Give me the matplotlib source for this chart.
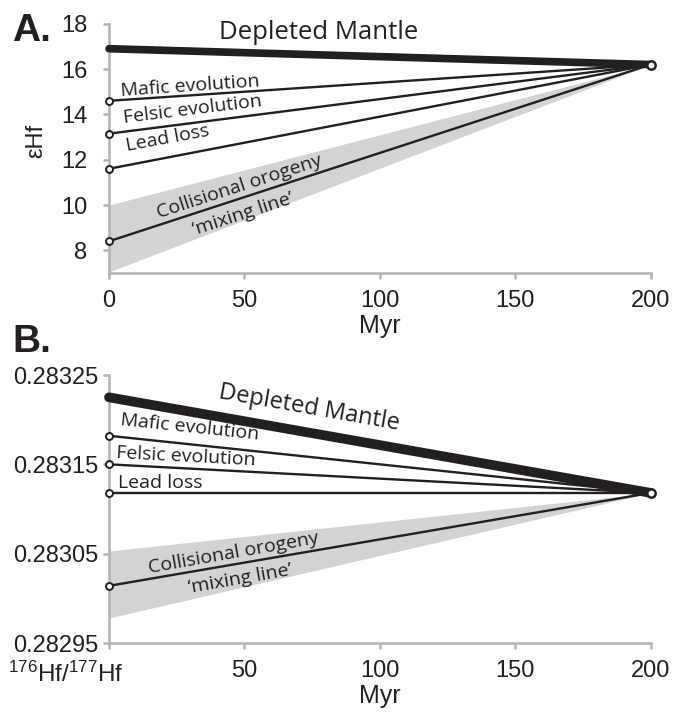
import numpy as np
import matplotlib
matplotlib.use('Agg')
import matplotlib.pyplot as plt

plt.rcParams['mathtext.fontset'] = 'custom'
plt.rcParams['mathtext.rm'] = 'Liberation Sans'
plt.rcParams['mathtext.it'] = 'Liberation Sans:italic'

# time axis (Myr) - all lines go from 0 to 200
t = [0, 200]

# panel A: epsilon Hf
eps_dm = [16.9, 16.2]
eps_mafic = [14.6, 16.2]
eps_felsic = [13.15, 16.2]
eps_lead = [11.6, 16.2]
eps_mix = [8.4, 16.2]
eps_band_top = [10.0, 16.2]
eps_band_bot = [7.05, 16.2]

# panel B: 176Hf/177Hf
hf_dm = [0.283225, 0.283118]
hf_mafic = [0.283182, 0.283118]
hf_felsic = [0.28315, 0.283118]
hf_lead = [0.283118, 0.283118]
hf_mix = [0.283014, 0.283118]
hf_band_top = [0.283053, 0.283118]
hf_band_bot = [0.282978, 0.283118]

xticks = [0, 50, 100, 150, 200]
yticks_a = [8, 10, 12, 14, 16, 18]
yticks_b = [0.28295, 0.28305, 0.28315, 0.28325]

GRAY = '#b3b3b3'
SHADE = '#d1d3d4'
TXT = '#231f20'
ANN = ['Open Sans', 'DejaVu Sans']
TICKF = ['Liberation Sans', 'DejaVu Sans']
BOLDF = ['Liberation Sans Narrow', 'Liberation Sans', 'DejaVu Sans']
ANN_FS = 14


def style_axes(ax, xpad, ypad):
    for s in ['top', 'right']:
        ax.spines[s].set_visible(False)
    for s in ['left', 'bottom']:
        ax.spines[s].set_color(GRAY)
        ax.spines[s].set_linewidth(1.8)
    ax.tick_params(colors=GRAY, width=1.8, length=4.5, direction='out',
                   labelcolor=TXT, labelsize=17)
    ax.tick_params(axis='x', pad=xpad)
    ax.tick_params(axis='y', pad=ypad)
    for lab in ax.get_xticklabels() + ax.get_yticklabels():
        lab.set_family(TICKF)


def draw_panel(ax, dm, mafic, felsic, lead, mix, band_top, band_bot, dm_lw):
    ax.fill_between(t, band_bot, band_top, color=SHADE, lw=0, zorder=1)
    ax.plot(t, dm, color=TXT, lw=dm_lw, solid_capstyle='round', zorder=3,
            clip_on=False)
    for y in [mafic, felsic, lead, mix]:
        ax.plot(t, y, color=TXT, lw=1.7, zorder=3, clip_on=False)
        ax.plot(t[0], y[0], 'o', ms=5, mfc='white', mec=TXT, mew=1.4,
                zorder=5, clip_on=False)
    ax.plot(t[1], dm[1], 'o', ms=6, mfc='white', mec=TXT, mew=1.8,
            zorder=6, clip_on=False)


fig = plt.figure(figsize=(6.73, 7.12), dpi=100)

# ---------- panel A ----------
axA = fig.add_axes([0.162, 0.6166, 0.805, 0.350])
draw_panel(axA, eps_dm, eps_mafic, eps_felsic, eps_lead, eps_mix,
           eps_band_top, eps_band_bot, 5.5)
axA.set_xlim(0, 200)
axA.set_ylim(7, 18)
axA.set_xticks(xticks)
axA.set_yticks(yticks_a)
style_axes(axA, 8, 11)
axA.set_xlabel('Myr', fontsize=18, family=TICKF, color=TXT, labelpad=1)
axA.set_ylabel('εHf', fontsize=17, family=TICKF, color=TXT)
axA.yaxis.set_label_coords(-0.114, 0.53)

axA.text(77.5, 17.6, 'Depleted Mantle', fontsize=18.5, family=ANN, color=TXT,
         ha='center', va='center')
axA.text(29.9, 15.25, 'Mafic evolution', fontsize=ANN_FS, family=ANN,
         color=TXT, ha='center', va='center', rotation=4)
axA.text(31, 14.2, 'Felsic evolution', fontsize=ANN_FS, family=ANN,
         color=TXT, ha='center', va='center', rotation=7)
axA.text(21.8, 12.95, 'Lead loss', fontsize=ANN_FS, family=ANN,
         color=TXT, ha='center', va='center', rotation=10.5)
axA.text(48.3, 10.8, 'Collisional orogeny', fontsize=ANN_FS, family=ANN,
         color=TXT, ha='center', va='center', rotation=18)
axA.text(49.4, 9.6, '‘mixing line’', fontsize=ANN_FS, family=ANN,
         color=TXT, ha='center', va='center', rotation=18)

# ---------- panel B ----------
axB = fig.add_axes([0.162, 0.0969, 0.805, 0.3764])
draw_panel(axB, hf_dm, hf_mafic, hf_felsic, hf_lead, hf_mix,
           hf_band_top, hf_band_bot, 7)
axB.set_xlim(0, 200)
axB.set_ylim(0.28295, 0.28325)
axB.set_xticks(xticks)
axB.set_xticklabels(['', '50', '100', '150', '200'])
axB.set_yticks(yticks_b)
axB.set_yticklabels(['%.5f' % v for v in yticks_b])
style_axes(axB, 8, 3.5)
axB.set_xlabel('Myr', fontsize=18, family=TICKF, color=TXT, labelpad=1)

axB.text(73.8, 0.283213, 'Depleted Mantle', fontsize=17, family=ANN,
         color=TXT, ha='center', va='center', rotation=-10)
axB.text(29.9, 0.283191, 'Mafic evolution', fontsize=ANN_FS, family=ANN,
         color=TXT, ha='center', va='center', rotation=-6)
axB.text(28.4, 0.283159, 'Felsic evolution', fontsize=ANN_FS, family=ANN,
         color=TXT, ha='center', va='center', rotation=-3)
axB.text(18.8, 0.283129, 'Lead loss', fontsize=ANN_FS, family=ANN,
         color=TXT, ha='center', va='center')
axB.text(45.8, 0.283051, 'Collisional orogeny', fontsize=ANN_FS, family=ANN,
         color=TXT, ha='center', va='center', rotation=10)
axB.text(48.3, 0.283022, '‘mixing line’', fontsize=ANN_FS, family=ANN,
         color=TXT, ha='center', va='center', rotation=10)

fig.text(8 / 673, 1 - 674 / 712, r'$^{176}$Hf/$^{177}$Hf', fontsize=17.5,
         family=TICKF, ha='left', va='center', color=TXT)

# panel letters
fig.text(12 / 673, 1 - 31 / 712, 'A.', fontsize=28, fontweight='bold',
         family=BOLDF, ha='left', va='center', color=TXT)
fig.text(12 / 673, 1 - 342 / 712, 'B.', fontsize=28, fontweight='bold',
         family=BOLDF, ha='left', va='center', color=TXT)

fig.savefig('out.png', dpi=100)
